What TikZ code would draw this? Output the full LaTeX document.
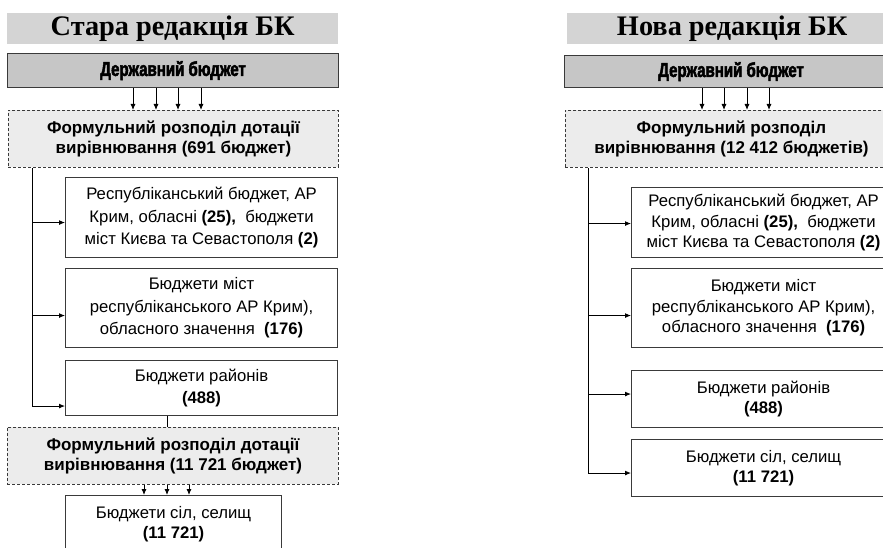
\documentclass[tikz,border=0pt]{standalone}
\usepackage{fontspec}
\setmainfont{Liberation Sans}
\newfontfamily\titlefont{Liberation Serif}
\newfontfamily\condfont[FakeStretch=0.75,BoldFeatures={FakeBold=2.5}]{Liberation Sans}
\usetikzlibrary{arrows.meta}
\definecolor{titlegray}{HTML}{D4D4D4}
\definecolor{sbgray}{HTML}{C6C6C6}
\definecolor{dashgray}{HTML}{ECECEC}
\definecolor{edgegray}{HTML}{3A3A3A}
\tikzset{
  titlebar/.style={fill=titlegray, draw=none, anchor=north west, inner sep=0pt,
    font=\titlefont\bfseries\fontsize{28.3}{32}\selectfont},
  sbbox/.style={fill=sbgray, draw=edgegray, line width=1.1pt, anchor=north west, inner sep=0pt,
    font=\condfont\bfseries\fontsize{20}{22}\selectfont},
  fdbox/.style={fill=dashgray, draw=edgegray, line width=0.9pt, dash pattern=on 3pt off 2pt,
    anchor=north west, inner sep=0pt, align=center,
    font=\bfseries\fontsize{17}{20.5}\selectfont},
  lbox/.style={fill=white, draw=edgegray, line width=1.1pt, anchor=north west, inner sep=0pt,
    align=center, font=\fontsize{16.7}{22.5}\selectfont},
  rbox/.style={lbox, font=\fontsize{16.7}{20.5}\selectfont},
  conn/.style={draw=black, line width=0.9pt},
  arr/.style={conn, -{Latex[length=6pt,width=5pt]}}
}
\begin{document}
\begin{tikzpicture}[x=1pt,y=-1pt]
\clip (0,0) rectangle (883,548);
\fill[white] (0,0) rectangle (883,548);
% ---------------- left panel ----------------
\node[titlebar, minimum width=331pt, minimum height=31pt] (ttlL) at (7,13) {Стара редакція БК};
\node[sbbox, minimum width=331pt, minimum height=34pt] (sbL) at (7,53) {Державний бюджет};
\node[fdbox, minimum width=330pt, minimum height=57pt] (fdL) at (8,110)
  {Формульний розподіл дотації\\вирівнювання (691 бюджет)};
\node[lbox, minimum width=272pt, minimum height=80pt] (b1L) at (65,177)
  {Республіканський бюджет, АР\\Крим, обласні \textbf{(25),}\ \ бюджети\\міст Києва та Севастополя \textbf{(2)}};
\node[lbox, minimum width=272pt, minimum height=79pt] (b2L) at (65,268)
  {Бюджети міст\\республіканського АР Крим),\\обласного значення\ \ \textbf{(176)}};
\node[lbox, minimum width=272pt, minimum height=55pt] (b3L) at (65,360)
  {Бюджети районів\\\textbf{(488)}};
\node[fdbox, minimum width=331pt, minimum height=57pt] (fd2L) at (7,427)
  {Формульний розподіл дотації\\вирівнювання (11 721 бюджет)};
\node[lbox, minimum width=216pt, minimum height=58pt, font=\fontsize{16.7}{20}\selectfont] (b4L) at (65,495)
  {Бюджети сіл, селищ\\\textbf{(11 721)}};
\coordinate (a1) at (133,0); \coordinate (a2) at (156,0);
\coordinate (a3) at (178,0); \coordinate (a4) at (201,0);
\foreach \c in {a1,a2,a3,a4} \draw[arr] (sbL.south -| \c) -- (fdL.north -| \c);
\coordinate (vL) at (32,0);
\draw[conn] (fdL.south -| vL) -- ([yshift=-18pt]b3L.west -| vL);
\draw[arr] ([yshift=-5pt]b1L.west -| vL) -- ([yshift=-5pt]b1L.west);
\draw[arr] ([yshift=-7.5pt]b2L.west -| vL) -- ([yshift=-7.5pt]b2L.west);
\draw[arr] ([yshift=-18pt]b3L.west -| vL) -- ([yshift=-18pt]b3L.west);
\coordinate (mL) at (167,0);
\draw[conn] (b3L.south -| mL) -- (fd2L.north -| mL);
\coordinate (c1) at (144,0); \coordinate (c2) at (167,0); \coordinate (c3) at (189,0);
\foreach \c in {c1,c2,c3} \draw[arr] (fd2L.south -| \c) -- (b4L.north -| \c);
% ---------------- right panel ----------------
\node[titlebar, minimum width=330pt, minimum height=31pt] (ttlR) at (567,13) {Нова редакція БК};
\node[sbbox, minimum width=333pt, minimum height=32pt] (sbR) at (564,55) {Державний бюджет};
\node[fdbox, minimum width=332pt, minimum height=57pt] (fdR) at (565,110)
  {Формульний розподіл\\вирівнювання (12 412 бюджетів)};
\node[rbox, minimum width=264pt, minimum height=70pt] (b1R) at (631,187)
  {Республіканський бюджет, АР\\Крим, обласні \textbf{(25),}\ \ бюджети\\міст Києва та Севастополя \textbf{(2)}};
\node[rbox, minimum width=264pt, minimum height=79pt] (b2R) at (631,268)
  {Бюджети міст\\республіканського АР Крим),\\обласного значення\ \ \textbf{(176)}};
\node[rbox, minimum width=264pt, minimum height=57pt] (b3R) at (631,370)
  {Бюджети районів\\\textbf{(488)}};
\node[rbox, minimum width=264pt, minimum height=57pt] (b4R) at (631,439)
  {Бюджети сіл, селищ\\\textbf{(11 721)}};
\coordinate (r1) at (702,0); \coordinate (r2) at (724,0);
\coordinate (r3) at (747,0); \coordinate (r4) at (769,0);
\foreach \c in {r1,r2,r3,r4} \draw[arr] (sbR.south -| \c) -- (fdR.north -| \c);
\coordinate (vR) at (588,0);
\draw[conn] (fdR.south -| vR) -- ([yshift=-5pt]b4R.west -| vR);
\draw[arr] ([yshift=-1pt]b1R.west -| vR) -- ([yshift=-1pt]b1R.west);
\draw[arr] ([yshift=-7.5pt]b2R.west -| vR) -- ([yshift=-7.5pt]b2R.west);
\draw[arr] ([yshift=5pt]b3R.west -| vR) -- ([yshift=5pt]b3R.west);
\draw[arr] ([yshift=-5pt]b4R.west -| vR) -- ([yshift=-5pt]b4R.west);
\end{tikzpicture}
\end{document}
